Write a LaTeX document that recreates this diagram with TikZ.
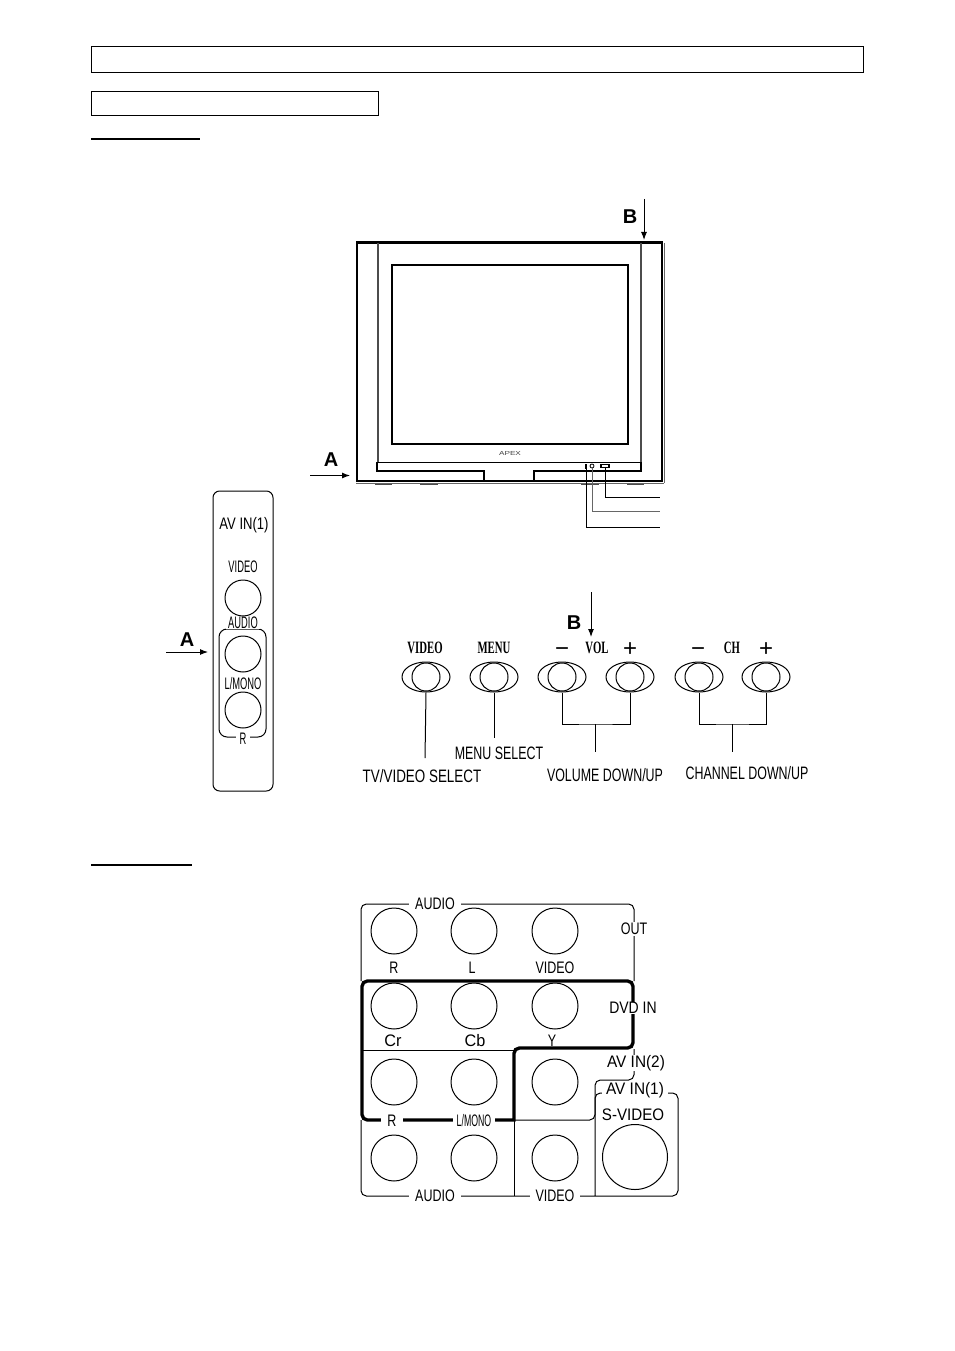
\documentclass[tikz,border=0pt]{standalone}
\usepackage{fontspec}
\setmainfont{Liberation Sans}
\newfontfamily\keyfont{Liberation Serif}
\usetikzlibrary{positioning,shapes,arrows.meta}

\tikzset{
  thinline/.style={line width=.75pt},
  heavyline/.style={line width=2.5pt},
  bodyline/.style={line width=1.8pt},
  ruleline/.style={line width=1.7pt},
  frameline/.style={line width=1.1pt},
  pointer/.style={-{Latex[length=6pt,width=4.5pt]}, line width=.75pt},
  jack/.style={circle, draw, line width=.75pt, inner sep=0pt, minimum size=46*.75pt},
  paneljack/.style={circle, draw, line width=.75pt, inner sep=0pt, minimum size=36*.75pt},
  knob/.style={circle, draw, line width=.75pt, inner sep=0pt, minimum size=28*.75pt},
  knobring/.style={ellipse, draw, line width=.75pt, inner sep=0pt, minimum width=48*.75pt, minimum height=30*.75pt},
  marker/.style={font=\fontsize{15}{17}\selectfont\bfseries, inner sep=0pt},
  rearlabel/.style={font=\fontsize{12.5}{14}\selectfont, xscale=.75, fill=white, inner xsep=6pt, inner ysep=.5pt},
  sidelabel/.style={font=\fontsize{12.5}{14}\selectfont, xscale=.56, inner sep=0pt},
  captionlabel/.style={font=\fontsize{13.5}{15}\selectfont, xscale=.69, inner sep=0pt},
  keylabel/.style={font=\keyfont\fontsize{13}{15}\selectfont\bfseries, xscale=.62, inner sep=0pt},
  signlabel/.style={font=\fontsize{18}{20}\selectfont, inner sep=0pt},
}

\begin{document}
\begin{tikzpicture}[x=.75pt, y=-.75pt]
  \useasboundingbox (0,0) rectangle (954,1351);
  \fill[white] (0,0) rectangle (954,1351);

  % page heading boxes
  \draw[frameline] (91.5,46.5) rectangle (863.5,72.5);
  \draw[frameline] (91.5,91.5) rectangle (378.5,115.5);
  \draw[ruleline] (91,139) -- (200,139);
  \draw[ruleline] (91,865) -- (192,865);

  % television
  \draw[bodyline] (357,242.5) rectangle (662,481);
  \draw[line width=1.4pt, black!70] (378,243) -- (378,462);
  \draw[line width=1.4pt, black!70] (641,243) -- (641,462);
  \draw[line width=1.6pt] (392,265) rectangle (628,444);
  \draw[thinline] (377,462) -- (641,462);
  \draw[line width=1.1pt] (377,462) -- (377,471) -- (484,471) -- (484,481);
  \draw[line width=1.1pt] (641,462) -- (641,471) -- (534,471) -- (534,481);
  \fill[white] (485,472) rectangle (533,480);
  \draw[thinline] (484,481) -- (534,481);
  \draw[thinline, black!60] (356,483) -- (664,483);
  \draw[thinline, black!60] (664,243) -- (664,483);
  \draw[line width=1.2pt, black!70] (375,484.5) -- (392,484.5) (420,484.5) -- (438,484.5) (581,484.5) -- (599,484.5) (627,484.5) -- (644,484.5);
  \node[font=\fontsize{4.4}{5}\selectfont, xscale=1.4, text=black!75, inner sep=0pt] (apex) at (510,453) {APEX};

  % television keys and their leaders
  \node[draw, line width=.9pt, inner sep=0pt, minimum width=6pt, minimum height=2.5pt] (tvkey) at (605,466) {};
  \node[circle, draw, line width=.6pt, inner sep=0pt, minimum size=3pt] (tvknob) at (592,466) {};
  \node[draw, line width=.6pt, inner sep=0pt, minimum width=.6pt, minimum height=3pt] (tvled) at (586,466) {};
  \coordinate (keyend) at (660,497);
  \coordinate (knobend) at (660,511);
  \coordinate (ledend) at (660,527);
  \draw[thinline] (tvkey.south) |- (keyend);
  \draw[thinline, black!60] (tvknob.south) |- (knobend);
  \draw[thinline] (tvled.south) |- (ledend);

  % arrows A and B on the set
  \coordinate (atail) at (310,475.5);
  \coordinate (atip) at (350,475.5);
  \coordinate (btail) at (644,199);
  \coordinate (btip) at (644,240);
  \path[pointer] (atail) edge (atip);
  \path[pointer] (btail) edge (btip);
  \node[marker] (alabel) at (331,460) {A};
  \node[marker] (blabel) at (630,217) {B};

  % side panel
  \draw[thinline, rounded corners=5] (213,491) rectangle (273,791);
  \draw[thinline, rounded corners=6] (219,629) rectangle (266,737);
  \node[sidelabel, xscale=1.4] (sideav) at (244,525) {AV IN(1)};
  \node[sidelabel] (sidevideo) at (243,567) {VIDEO};
  \node[sidelabel, fill=white, inner xsep=3pt] (sideaudio) at (243,623) {AUDIO};
  \node[sidelabel] (sidemono) at (243,684) {L/MONO};
  \node[sidelabel, fill=white, inner xsep=5pt, inner ysep=1pt] (sider) at (243,739) {R};
  \node[paneljack] (sidejacka) at (243,598) {};
  \node[paneljack] (sidejackb) at (243,654) {};
  \node[paneljack] (sidejackc) at (243,710) {};
  \coordinate (sidetail) at (166,652);
  \coordinate (sidetip) at (208,652);
  \path[pointer] (sidetail) edge (sidetip);
  \node[marker] (sidea) at (187,640) {A};

  % control keys
  \node[knobring] (ringvideo) at (426,677) {};
  \node[knobring] (ringmenu) at (494,677) {};
  \node[knobring] (ringvolm) at (562,677) {};
  \node[knobring] (ringvolp) at (630,677) {};
  \node[knobring] (ringchm) at (699,677) {};
  \node[knobring] (ringchp) at (766,677) {};
  \node[knob] at (ringvideo) {};
  \node[knob] at (ringmenu) {};
  \node[knob] at (ringvolm) {};
  \node[knob] at (ringvolp) {};
  \node[knob] at (ringchm) {};
  \node[knob] at (ringchp) {};

  \node[keylabel] (keyvideo) at (425,648) {VIDEO};
  \node[keylabel] (keymenu) at (494,648) {MENU};
  \node[signlabel] (volminus) at (562,652) {−};
  \node[keylabel] (keyvol) at (597,648) {VOL};
  \node[signlabel] (volplus) at (630,650) {+};
  \node[signlabel] (chminus) at (698,652) {−};
  \node[keylabel] (keych) at (732,648) {CH};
  \node[signlabel] (chplus) at (766,650) {+};

  \coordinate (voljoin) at (595,724);
  \coordinate (chjoin) at (732,724);
  \node[captionlabel, xscale=1.08] (capvideo) at (422,776) {TV/VIDEO SELECT};
  \node[captionlabel] (capmenu) at (499,753) {MENU SELECT};
  \node[captionlabel] (capvol) at (605,775) {VOLUME DOWN/UP};
  \node[captionlabel] (capch) at (747,773) {CHANNEL DOWN/UP};
  \coordinate (videoend) at (425,758);
  \coordinate (menuend) at (494,738);
  \coordinate (volend) at (595,752);
  \coordinate (chend) at (732,752);
  \draw[thinline] (ringvideo.south) -- (videoend);
  \draw[thinline] (ringmenu.south) -- (menuend);
  \draw[thinline] (ringvolm.south) |- (voljoin) -| (ringvolp.south);
  \draw[thinline] (ringchm.south) |- (chjoin) -| (ringchp.south);
  \draw[thinline] (voljoin) -- (volend);
  \draw[thinline] (chjoin) -- (chend);

  \coordinate (keytail) at (591,592);
  \coordinate (keytip) at (591,637);
  \path[pointer] (keytail) edge (keytip);
  \node[marker] (keyb) at (574,623) {B};

  % rear panel frames
  \draw[thinline, rounded corners=4] (361,981) -- (361,904) -- (634,904) -- (634,981);
  \draw[thinline] (362,1050) -- (514,1050);
  \draw[thinline, rounded corners=4] (514,1120) -- (595,1120) -- (595,1080) -- (634,1080) -- (634,1049);
  \draw[thinline, rounded corners=4] (595,1196) -- (595,1093) -- (678,1093) -- (678,1196) -- (361,1196) -- (361,1120);
  \draw[thinline] (514,1120) -- (514,1196);
  \draw[heavyline, rounded corners=4, line cap=rect] (514,1120) -- (362,1120) -- (362,981) -- (633,981) -- (633,1048) -- (514,1048) -- (514,1120);

  % rear panel labels
  \node[rearlabel] (audioout) at (435,904) {AUDIO};
  \node[rearlabel, inner xsep=0pt] (outlabel) at (634,929) {OUT};
  \node[rearlabel, inner xsep=0pt, inner ysep=0pt, fill=none] (routlabel) at (394,968) {R};
  \node[rearlabel, inner xsep=0pt, fill=none] (loutlabel) at (472,968) {L};
  \node[rearlabel, inner xsep=0pt, fill=none] (videoout) at (555,968) {VIDEO};
  \node[rearlabel, inner xsep=0pt, xscale=1.12] (dvdlabel) at (633,1008) {DVD IN};
  \node[rearlabel, inner xsep=0pt, xscale=1.3, fill=none] (crlabel) at (393,1041) {Cr};
  \node[rearlabel, inner xsep=0pt, xscale=1.3, fill=none] (cblabel) at (475,1041) {Cb};
  \node[rearlabel, inner xsep=0pt, fill=none] (ylabel) at (552,1041) {Y};
  \node[rearlabel, inner xsep=0pt, xscale=1.23] (avtwo) at (636,1063) {AV IN(2)};
  \node[rearlabel, inner xsep=3pt, inner ysep=0pt, xscale=1.23] (avone) at (635,1090) {AV IN(1)};
  \node[rearlabel, inner xsep=6pt] (rinlabel) at (392,1121) {R};
  \node[rearlabel, xscale=.7, inner xsep=6pt] (monolabel) at (474,1121) {L/MONO};
  \node[rearlabel, inner xsep=0pt, xscale=1.21, fill=none] (svideolabel) at (633,1115) {S-VIDEO};
  \node[rearlabel] (audioin) at (435,1196) {AUDIO};
  \node[rearlabel] (videoin) at (555,1196) {VIDEO};

  % rear panel sockets
  \node[jack] (routjack) at (394,931) {};
  \node[jack] (loutjack) at (474,931) {};
  \node[jack] (voutjack) at (555,931) {};
  \node[jack] (crjack) at (394,1006) {};
  \node[jack] (cbjack) at (474,1006) {};
  \node[jack] (yjack) at (555,1006) {};
  \node[jack] (rtwojack) at (394,1082) {};
  \node[jack] (ltwojack) at (474,1082) {};
  \node[jack] (vtwojack) at (555,1082) {};
  \node[jack] (ronejack) at (394,1158) {};
  \node[jack] (lonejack) at (474,1158) {};
  \node[jack] (vonejack) at (555,1158) {};
  \node[jack, minimum size=65*.75pt] (svideojack) at (635,1157) {};
\end{tikzpicture}
\end{document}
